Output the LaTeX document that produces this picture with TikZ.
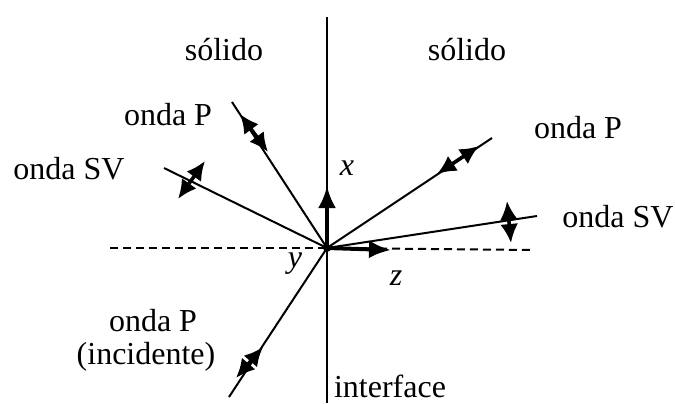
\documentclass[tikz,border=0pt]{standalone}
\usepackage{fontspec}
\setmainfont{Liberation Serif}
\usetikzlibrary{arrows.meta}
\begin{document}
\begin{tikzpicture}[x=0.5pt,y=-0.5pt,
  thin line/.style={line width=1pt},
  dashline/.style={line width=1pt,dash pattern=on 4pt off 2.5pt},
  axisarrow/.style={line width=2pt,-{Latex[length=11pt,width=9pt]}},
  dbl/.style={line width=1.8pt,{Latex[length=9.5pt,width=9pt]}-{Latex[length=9.5pt,width=9pt]}},
  lbl/.style={anchor=base,inner sep=0pt,font=\fontsize{16}{19}\selectfont}]
\useasboundingbox (0,0) rectangle (675,403);
% coordinates
\coordinate (O) at (327,248);
\coordinate (T) at (327,17);
\coordinate (B) at (327,403);
\coordinate (DL) at (110,248);
\coordinate (DR) at (532,250);
\coordinate (PR) at (232,102);
\coordinate (SVR) at (164,168);
\coordinate (PT) at (492,138);
\coordinate (SVT) at (537,216);
\coordinate (INC) at (229,397);
\coordinate (X) at (327,186);
\coordinate (Z) at (391,250);
\coordinate (pr1) at (240,114);
\coordinate (pr2) at (268,152);
\coordinate (svr1) at (205,161);
\coordinate (svr2) at (178,199);
\coordinate (pt1) at (437,174);
\coordinate (pt2) at (479,146);
\coordinate (svt1) at (507,201);
\coordinate (svt2) at (511,243);
\coordinate (in1) at (263,347);
\coordinate (in2) at (236,378);
% interface and dashed line
\draw[thin line] (T) -- (B);
\draw[dashline] (DL) -- (O);
\draw[dashline] (O) -- (DR);
% rays
\draw[thin line] (O) -- (PR);
\draw[thin line] (O) -- (SVR);
\draw[thin line] (O) -- (PT);
\draw[thin line] (O) -- (SVT);
\draw[thin line] (O) -- (INC);
% polarisation arrows
\draw[dbl] (pr1) -- (pr2);
\draw[dbl] (svr1) -- (svr2);
\draw[dbl] (pt1) -- (pt2);
\draw[dbl] (svt1) -- (svt2);
\draw[dbl] (in1) -- (in2);
% axes
\draw[axisarrow] (O) -- (X);
\draw[axisarrow] (O) -- (Z);
\fill (O) circle (4);
% labels
\node[lbl] (sol1) at (224,60) {sólido};
\node[lbl] (sol2) at (467,60) {sólido};
\node[lbl] (lpr) at (168,125) {onda P};
\node[lbl] (lsvr) at (69,179) {onda SV};
\node[lbl] (lx) at (347,175) {\textit{x}};
\node[lbl] (lpt) at (578,138) {onda P};
\node[lbl] (lsvt) at (618,227) {onda SV};
\node[lbl] (ly) at (295,267) {\textit{y}};
\node[lbl] (lz) at (396,285) {\textit{z}};
\node[lbl] (linc1) at (153,331) {onda P};
\node[lbl] (linc2) at (146,364) {(incidente)};
\node[lbl] (lint) at (390,397) {interface};
\end{tikzpicture}
\end{document}
